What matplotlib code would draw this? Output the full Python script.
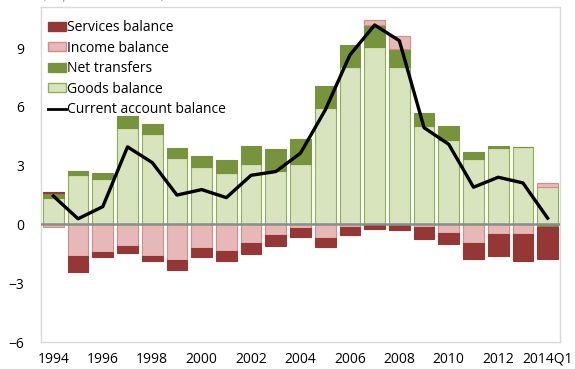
import numpy as np
import matplotlib
matplotlib.use("Agg")
import matplotlib.pyplot as plt
from matplotlib.lines import Line2D
from matplotlib.patches import Patch

plt.rcParams['font.family'] = ['Open Sans', 'DejaVu Sans']
plt.rcParams['font.size'] = 10

# current account components, percent of GDP
years = ['1994', '1995', '1996', '1997', '1998', '1999', '2000', '2001', '2002', '2003',
         '2004', '2005', '2006', '2007', '2008', '2009', '2010', '2011', '2012', '2013', '2014Q1']
goods = [1.33, 2.53, 2.32, 4.92, 4.62, 3.37, 2.91, 2.62, 3.09, 2.75,
         3.11, 5.96, 8.05, 9.06, 8.02, 5.03, 4.30, 3.32, 3.92, 3.95, 1.93]
transfers = [0.26, 0.22, 0.31, 0.62, 0.51, 0.53, 0.58, 0.66, 0.94, 1.10,
             1.25, 1.11, 1.09, 1.12, 0.93, 0.64, 0.73, 0.38, 0.08, 0.02, -0.14]
income = [-0.12, -1.59, -1.42, -1.11, -1.59, -1.79, -1.18, -1.38, -0.97, -0.55,
          -0.19, -0.67, -0.14, 0.24, 0.68, -0.14, -0.42, -0.93, -0.47, -0.50, 0.19]
services = [0.09, -0.85, -0.25, -0.36, -0.29, -0.52, -0.49, -0.50, -0.52, -0.56,
            -0.46, -0.48, -0.40, -0.23, -0.28, -0.60, -0.56, -0.85, -1.14, -1.36, -1.62]
current = [1.45, 0.29, 0.91, 3.96, 3.16, 1.50, 1.78, 1.37, 2.51, 2.70,
           3.64, 5.84, 8.65, 10.18, 9.38, 4.94, 4.09, 1.90, 2.41, 2.12, 0.32]
xlabels = ['1994', '1996', '1998', '2000', '2002', '2004', '2006', '2008', '2010', '2012', '2014Q1']

fig = plt.figure(figsize=(5.75, 3.69), dpi=100)
ax = fig.add_axes([41/575, 27/369, 519/575, 335/369])

x = np.arange(len(years))
w = 0.84

# stack positives up and negatives down separately
pos = np.zeros(len(years))
neg = np.zeros(len(years))
series = [
    (goods, '#D7E4BD', '#8FB04E'),
    (transfers, '#77933C', '#77933C'),
    (income, '#E6B9B8', '#D88A88'),
    (services, '#953735', '#953735'),
]
for vals, fc, ec in series:
    v = np.array(vals)
    base = np.where(v >= 0, pos, neg)
    ax.bar(x, v, w, bottom=base, color=fc, edgecolor=ec, linewidth=0.8, zorder=2)
    pos = pos + np.where(v >= 0, v, 0)
    neg = neg + np.where(v < 0, v, 0)

ax.axhline(0, color='#8C8C8C', lw=1.8, zorder=3)
ax.plot(x, current, color='black', lw=2.4, zorder=4)

ax.set_xlim(-0.5, len(years) - 0.5)
ax.set_ylim(-6, 11.1)
ax.set_yticks([-6, -3, 0, 3, 6, 9])
ax.set_xticks(x[::2])
ax.set_xticklabels(xlabels)
ax.tick_params(axis='y', length=0, pad=12)
ax.tick_params(axis='x', length=0, pad=7)
for s in ax.spines.values():
    s.set_color('#D9D9D9')
    s.set_linewidth(1)

handles = [
    Patch(facecolor='#953735', edgecolor='#953735'),
    Patch(facecolor='#E6B9B8', edgecolor='#D88A88'),
    Patch(facecolor='#77933C', edgecolor='#77933C'),
    Patch(facecolor='#D7E4BD', edgecolor='#8FB04E'),
    Line2D([], [], color='black', lw=2),
]
labels = ['Services balance', 'Income balance', 'Net transfers', 'Goods balance',
          'Current account balance']
ax.legend(handles, labels, loc='upper left', bbox_to_anchor=(48/575, 1 - 20/369),
          bbox_transform=fig.transFigure, frameon=False, handlelength=1.3,
          handleheight=0.6, handletextpad=0.1, labelspacing=0.4, borderaxespad=0,
          borderpad=0)

fig.text(42/575, 1.0 + 1.5/369, '(In percent of GDP)', color='#7FA7D8', fontsize=10,
         va='baseline', ha='left')

fig.savefig('out.png', dpi=100)
